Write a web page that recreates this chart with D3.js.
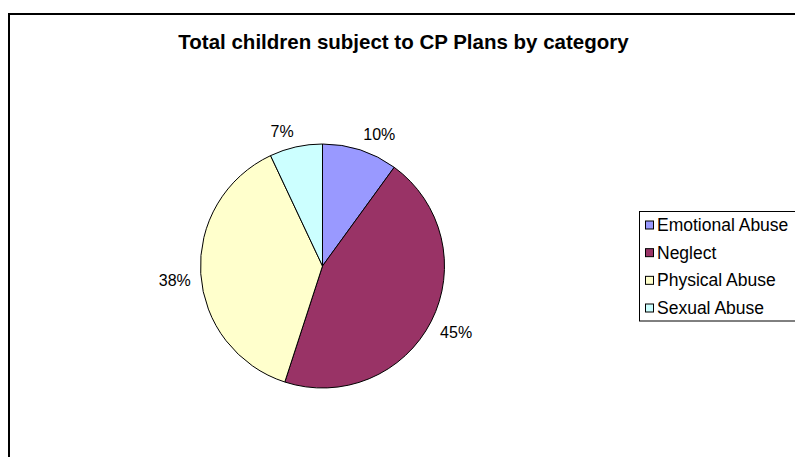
<!DOCTYPE html>
<html>
<head>
<meta charset="utf-8">
<script src="https://cdn.jsdelivr.net/npm/d3@7"></script>
<style>
  html, body { margin: 0; padding: 0; background: #fff; }
  svg { display: block; font-family: "Liberation Sans", Arial, sans-serif; }
</style>
</head>
<body>
<svg id="chart" width="795" height="457"></svg>
<script>
// Children subject to child protection plans, share by category (%)
const categories = ["Emotional Abuse", "Neglect", "Physical Abuse", "Sexual Abuse"];
const shares = [10, 45, 38, 7];
const colours = ["#9999FF", "#993366", "#FFFFCC", "#CCFFFF"];
const title = "Total children subject to CP Plans by category";

const svg = d3.select("#chart");

// chart frame (runs off the right and bottom edges)
svg.append("rect")
  .attr("x", 9).attr("y", 14)
  .attr("width", 820).attr("height", 480)
  .attr("fill", "#fff")
  .attr("stroke", "#000")
  .attr("stroke-width", 2);

svg.append("text")
  .attr("x", 403.5).attr("y", 49)
  .attr("text-anchor", "middle")
  .attr("font-size", "20.5px")
  .attr("font-weight", "bold")
  .text(title);

const cx = 322.5, cy = 266, r = 122;
const data = categories.map((c, i) => ({ name: c, value: shares[i], colour: colours[i] }));

const pie = d3.pie().value(d => d.value).sort(null);
const arcs = pie(data);
const arc = d3.arc().innerRadius(0).outerRadius(r);

const g = svg.append("g").attr("transform", `translate(${cx},${cy})`);

g.selectAll("path.slice")
  .data(arcs)
  .join("path")
  .attr("class", "slice")
  .attr("d", arc)
  .attr("fill", d => d.data.colour)
  .attr("stroke", "#000")
  .attr("stroke-width", 1)
  .attr("stroke-linejoin", "round");

// percentage labels: the label box's nearest corner sits just outside the rim
// along the slice's mid-angle
const labelGap = 10, labelH = 12;
g.selectAll("text.lbl")
  .data(arcs)
  .join("text")
  .attr("class", "lbl")
  .attr("text-anchor", "middle")
  .attr("dy", "0.35em")
  .attr("font-size", "16px")
  .attr("fill", "#000")
  .text(d => d.data.value + "%")
  .attr("transform", function(d) {
    const a = (d.startAngle + d.endAngle) / 2;
    const dx = Math.sin(a), dy = -Math.cos(a);
    const w = this.getComputedTextLength();
    const x = dx * (r + labelGap) + Math.sign(dx) * w / 2;
    const y = dy * (r + labelGap) + Math.sign(dy) * labelH / 2;
    return `translate(${x},${y})`;
  });

// legend
const lg = svg.append("g").attr("transform", "translate(639.5,211.5)");
lg.append("rect")
  .attr("width", 170).attr("height", 109.5)
  .attr("fill", "#fff")
  .attr("stroke", "#000")
  .attr("stroke-width", 1);

const rowY = d3.scalePoint().domain(categories).range([13.5, 96.5]);

const items = lg.selectAll("g.item")
  .data(data)
  .join("g")
  .attr("class", "item")
  .attr("transform", d => `translate(0,${rowY(d.name)})`);

items.append("rect")
  .attr("x", 6).attr("y", -4)
  .attr("width", 8).attr("height", 8)
  .attr("fill", d => d.colour)
  .attr("stroke", "#000")
  .attr("stroke-width", 1);

items.append("text")
  .attr("x", 17.5)
  .attr("dy", "0.35em")
  .attr("font-size", "17.5px")
  .attr("fill", "#000")
  .text(d => d.name);
</script>
</body>
</html>
